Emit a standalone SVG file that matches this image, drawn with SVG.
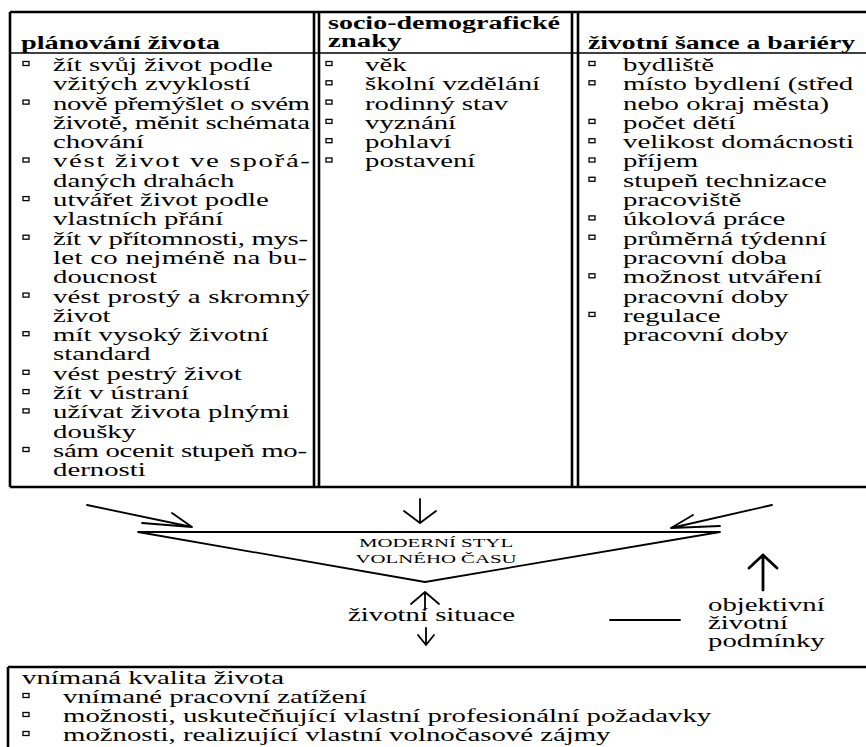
<svg xmlns="http://www.w3.org/2000/svg" width="866" height="747" viewBox="0 0 866 747">
<style>
text { font-family: "Liberation Serif", "Times New Roman", serif; font-size: 18px; fill: #000; }
.hd { font-weight: bold; }
.cap { font-size: 13px; }
.frame { stroke: #000; fill: none; stroke-width: 2.6; }
.thin { stroke: #000; fill: none; stroke-width: 1.4; }
.bul { fill: #fff; stroke: #000; stroke-width: 1.3; }
.ln { stroke: #000; stroke-width: 1.8; fill: none; stroke-linecap: round; stroke-linejoin: round; }
.bold { stroke-width: 2.8; }
</style>
<rect width="866" height="747" fill="#fff"/>

<g id="table-frame">
  <path class="frame" d="M10,12 H866 M10,12 V487 M10,487 H866"/>
  <path class="thin" d="M10,53 H866"/>
  <path class="frame" d="M314,12 V487 M319,12 V487 M572,12 V487 M578,12 V487"/>
</g>

<g id="node-planovani">
  <text class="hd" transform="translate(21,0) scale(1.6,1)" x="0" y="49" textLength="124.4" lengthAdjust="spacingAndGlyphs">plánování života</text>
  <rect class="bul" x="23" y="61.5" width="6" height="4"/>
  <rect class="bul" x="23" y="100.1" width="6" height="4"/>
  <rect class="bul" x="23" y="158" width="6" height="4"/>
  <rect class="bul" x="23" y="196.6" width="6" height="4"/>
  <rect class="bul" x="23" y="235.2" width="6" height="4"/>
  <rect class="bul" x="23" y="293.1" width="6" height="4"/>
  <rect class="bul" x="23" y="331.7" width="6" height="4"/>
  <rect class="bul" x="23" y="370.3" width="6" height="4"/>
  <rect class="bul" x="23" y="389.6" width="6" height="4"/>
  <rect class="bul" x="23" y="408.9" width="6" height="4"/>
  <rect class="bul" x="23" y="447.5" width="6" height="4"/>
  <g transform="translate(53,0) scale(1.6,1)">
    <text x="0" y="71">žít svůj život podle</text>
    <text x="0" y="90.3">vžitých zvyklostí</text>
    <text x="0" y="109.6" textLength="160.6" lengthAdjust="spacing">nově přemýšlet o svém</text>
    <text x="0" y="128.9" textLength="160.6" lengthAdjust="spacing">životě, měnit schémata</text>
    <text x="0" y="148.2">chování</text>
    <text x="0" y="167.5" textLength="160.6" lengthAdjust="spacing">vést život ve spořá-</text>
    <text x="0" y="186.8">daných drahách</text>
    <text x="0" y="206.1">utvářet život podle</text>
    <text x="0" y="225.4">vlastních přání</text>
    <text x="0" y="244.7" textLength="159.4" lengthAdjust="spacing">žít v přítomnosti, mys-</text>
    <text x="0" y="264" textLength="158.8" lengthAdjust="spacing">let co nejméně na bu-</text>
    <text x="0" y="283.3">doucnost</text>
    <text x="0" y="302.6" textLength="160.6" lengthAdjust="spacing">vést prostý a skromný</text>
    <text x="0" y="321.9">život</text>
    <text x="0" y="341.2">mít vysoký životní</text>
    <text x="0" y="360.5">standard</text>
    <text x="0" y="379.8">vést pestrý život</text>
    <text x="0" y="399.1">žít v ústraní</text>
    <text x="0" y="418.4">užívat života plnými</text>
    <text x="0" y="437.7">doušky</text>
    <text x="0" y="457" textLength="158.8" lengthAdjust="spacing">sám ocenit stupeň mo-</text>
    <text x="0" y="476.3">dernosti</text>
  </g>
</g>

<g id="node-socio">
  <g transform="translate(328,0) scale(1.6,1)">
    <text class="hd" x="0" y="29" textLength="145" lengthAdjust="spacingAndGlyphs">socio-demografické</text>
    <text class="hd" x="0" y="47">znaky</text>
  </g>
  <rect class="bul" x="326" y="61.5" width="6" height="4"/>
  <rect class="bul" x="326" y="80.8" width="6" height="4"/>
  <rect class="bul" x="326" y="100.1" width="6" height="4"/>
  <rect class="bul" x="326" y="119.4" width="6" height="4"/>
  <rect class="bul" x="326" y="138.7" width="6" height="4"/>
  <rect class="bul" x="326" y="158" width="6" height="4"/>
  <g transform="translate(365,0) scale(1.6,1)">
    <text x="0" y="71">věk</text>
    <text x="0" y="90.3">školní vzdělání</text>
    <text x="0" y="109.6">rodinný stav</text>
    <text x="0" y="128.9">vyznání</text>
    <text x="0" y="148.2">pohlaví</text>
    <text x="0" y="167.5">postavení</text>
  </g>
</g>

<g id="node-sance">
  <text class="hd" transform="translate(588,0) scale(1.6,1)" x="0" y="49" textLength="166.9" lengthAdjust="spacingAndGlyphs">životní šance a bariéry</text>
  <rect class="bul" x="589" y="61.5" width="6" height="4"/>
  <rect class="bul" x="589" y="80.8" width="6" height="4"/>
  <rect class="bul" x="589" y="119.4" width="6" height="4"/>
  <rect class="bul" x="589" y="138.7" width="6" height="4"/>
  <rect class="bul" x="589" y="158" width="6" height="4"/>
  <rect class="bul" x="589" y="177.3" width="6" height="4"/>
  <rect class="bul" x="589" y="215.9" width="6" height="4"/>
  <rect class="bul" x="589" y="235.2" width="6" height="4"/>
  <rect class="bul" x="589" y="273.8" width="6" height="4"/>
  <rect class="bul" x="589" y="312.4" width="6" height="4"/>
  <g transform="translate(623,0) scale(1.6,1)">
    <text x="0" y="71">bydliště</text>
    <text x="0" y="90.3">místo bydlení (střed</text>
    <text x="0" y="109.6">nebo okraj města)</text>
    <text x="0" y="128.9">počet dětí</text>
    <text x="0" y="148.2">velikost domácnosti</text>
    <text x="0" y="167.5">příjem</text>
    <text x="0" y="186.8">stupeň technizace</text>
    <text x="0" y="206.1">pracoviště</text>
    <text x="0" y="225.4">úkolová práce</text>
    <text x="0" y="244.7">průměrná týdenní</text>
    <text x="0" y="264">pracovní doba</text>
    <text x="0" y="283.3">možnost utváření</text>
    <text x="0" y="302.6">pracovní doby</text>
    <text x="0" y="321.9">regulace</text>
    <text x="0" y="341.2">pracovní doby</text>
  </g>
</g>

<g id="node-moderni-styl">
  <path class="ln" d="M138,532 H720 L425,582 Z"/>
  <g transform="translate(436,0) scale(1.6,1)">
    <text class="cap" x="0" y="547" text-anchor="middle">MODERNÍ STYL</text>
    <text class="cap" x="0" y="563" text-anchor="middle">VOLNÉHO ČASU</text>
  </g>
</g>

<g id="node-zivotni-situace">
  <text transform="translate(348,0) scale(1.6,1)" x="0" y="621" textLength="104.4" lengthAdjust="spacingAndGlyphs">životní situace</text>
</g>

<g id="node-objektivni">
  <g transform="translate(708,0) scale(1.6,1)">
    <text x="0" y="611">objektivní</text>
    <text x="0" y="629">životní</text>
    <text x="0" y="647">podmínky</text>
  </g>
</g>

<g id="node-kvalita">
  <path class="frame" d="M8,667 H866 M8,667 V747"/>
  <text transform="translate(22,0) scale(1.6,1)" x="0" y="684">vnímaná kvalita života</text>
  <rect class="bul" x="23" y="693.5" width="6" height="4"/>
  <rect class="bul" x="23" y="712.5" width="6" height="4"/>
  <rect class="bul" x="23" y="731.5" width="6" height="4"/>
  <g transform="translate(63,0) scale(1.6,1)">
    <text x="0" y="703">vnímané pracovní zatížení</text>
    <text x="0" y="722">možnosti, uskutečňující vlastní profesionální požadavky</text>
    <text x="0" y="741">možnosti, realizující vlastní volnočasové zájmy</text>
  </g>
</g>

<g id="connectors">
  <path class="ln" d="M87,505 L192,527 M142,523 L192,527 L172,513"/>
  <path class="ln" d="M772,505 L671,528 M720,526 L671,528 L693,515"/>
  <path class="ln" d="M420,499 V523 M404,511 L420,523 L436,511"/>
  <path class="ln" d="M425,610 V592 M411,604 L425,592 L439,604"/>
  <path class="ln" d="M426,628 V645 M418,635 L426,645 L434,635"/>
  <path class="ln bold" d="M763,590 V555 M749,568 L763,555 L777,568"/>
  <path class="ln" d="M610,620 H680"/>
</g>
</svg>
